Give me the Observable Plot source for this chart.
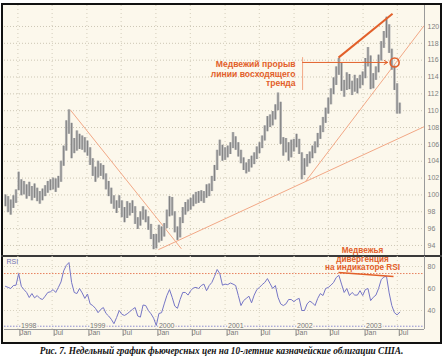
<!DOCTYPE html>
<html><head><meta charset="utf-8">
<script src="https://cdn.jsdelivr.net/npm/d3@7"></script>
<script src="https://cdn.jsdelivr.net/npm/@observablehq/plot@0.6"></script>
<style>
body{margin:0;background:#fff;}
#wrap{position:relative;width:443px;height:360px;overflow:hidden;font-family:"Liberation Sans",Arial,sans-serif;}
#frame{position:absolute;left:1px;top:3px;width:441px;height:341px;box-sizing:border-box;border:2px solid #111;background:#fcf8ec;}
#sep{position:absolute;left:1px;top:255px;width:441px;height:2px;background:#3a3a3a;}
#price,#rsi{position:absolute;left:0;}
#price{top:0}
#rsi{top:256px}
svg{overflow:visible}
#cap{position:absolute;left:0;top:346px;width:443px;text-align:center;font:italic bold 9.3px "Liberation Serif","Times New Roman",serif;color:#111;white-space:nowrap;}
</style></head>
<body><div id="wrap"><div id="frame"></div><div id="price"></div><div id="sep"></div><div id="rsi"></div><div id="cap">Рис. 7. Недельный график фьючерсных цен на 10-летние казначейские облигации США.</div></div>
<script>
// biweekly bars starting 1997-10-27
const closes = [99.3,98.8,98.3,99.2,99.8,102.0,100.6,101.0,100.2,100.8,
100.0,100.5,99.9,99.5,100.0,100.5,100.9,101.2,101.5,101.0,
101.6,103.5,105.3,108.0,109.5,105.5,105.6,107.0,106.2,106.5,
105.6,105.8,104.0,102.8,102.2,103.2,103.0,102.3,101.2,100.5,
99.5,99.0,98.5,99.5,98.2,97.3,98.7,98.2,98.6,97.3,
96.4,97.5,98.0,97.3,96.4,95.2,94.0,94.5,95.8,95.0,
96.0,97.5,99.3,98.0,96.0,94.9,96.8,98.0,98.5,98.8,
99.0,99.3,99.8,99.6,100.0,99.7,100.7,100.5,101.7,103.0,
104.8,105.8,104.5,104.9,105.2,105.5,106.6,106.0,105.2,104.2,
103.5,102.9,103.6,104.1,104.4,105.2,105.6,106.5,107.6,108.8,
108.7,109.0,110.2,111.5,106.5,105.3,106.0,104.5,105.8,106.0,
106.5,105.3,102.8,103.8,104.2,104.5,105.3,105.6,106.8,107.6,
108.6,109.8,110.9,112.0,113.2,114.6,115.4,113.0,112.5,113.8,
113.2,112.3,113.5,112.8,113.6,113.9,115.5,116.6,112.8,113.9,
114.6,116.0,117.6,118.8,120.5,117.2,115.2,113.0,111.5,110.4];
const highs = [100.0,99.8,99.4,99.9,100.6,102.7,101.8,101.6,101.2,101.5,
101.0,101.3,100.8,100.4,100.7,101.1,101.6,101.8,102.0,101.9,
102.2,104.0,105.8,108.8,110.1,108.5,106.7,107.6,107.2,107.0,
106.8,106.4,105.6,104.3,103.3,104.0,103.7,103.5,102.5,101.6,
100.8,99.9,99.3,99.9,99.3,98.5,99.2,99.0,99.3,98.6,
97.3,98.0,98.6,98.2,97.4,96.5,95.3,95.3,96.4,96.2,
96.6,98.2,99.8,99.7,98.0,96.2,97.3,98.5,99.1,99.4,
99.6,100.0,100.3,100.4,100.5,100.4,101.2,101.3,102.2,103.5,
105.3,106.5,105.9,105.6,105.8,106.2,107.4,106.9,106.2,105.3,
104.4,103.8,104.2,104.6,105.0,105.7,106.2,107.0,108.2,109.3,
109.5,109.9,110.7,112.1,111.0,106.8,106.7,106.2,106.5,106.6,
107.2,106.6,105.0,104.3,104.8,105.1,105.8,106.3,107.3,108.2,
109.2,110.3,111.5,112.6,113.9,115.2,116.2,115.6,113.6,114.5,
114.3,113.5,114.2,113.8,114.2,114.6,116.2,117.5,116.5,114.4,
115.2,116.6,118.2,119.4,121.1,120.2,117.3,115.3,113.2,110.9];
const lows = [98.6,97.9,97.6,98.4,99.0,100.5,99.9,100.0,99.5,99.8,
99.3,99.6,99.2,98.9,99.3,99.8,100.2,100.5,100.6,100.3,
100.8,101.5,103.4,105.2,107.2,104.3,104.9,105.2,105.4,105.3,
105.0,104.6,103.5,102.2,101.5,102.0,102.2,101.8,100.6,99.8,
98.9,98.3,97.8,98.4,97.3,96.7,97.2,97.5,97.8,96.5,
95.9,96.3,97.0,96.7,95.8,94.7,93.5,93.6,94.3,94.5,
95.0,96.0,97.4,97.5,95.5,94.6,94.9,96.6,97.6,98.0,
98.2,98.6,98.9,99.0,99.2,99.0,99.6,99.8,100.4,101.6,
102.9,104.6,104.0,104.1,104.4,104.8,105.5,105.3,104.5,103.7,
102.9,102.5,102.7,103.2,103.6,104.2,104.9,105.5,106.4,107.5,
108.0,108.2,108.9,110.0,106.0,104.6,105.0,104.0,104.4,105.1,
105.6,104.8,101.8,102.3,103.3,103.7,104.3,104.9,105.6,106.6,
107.4,108.5,109.6,110.7,111.9,113.0,114.2,112.3,111.6,112.4,
112.5,111.8,112.2,112.0,112.6,113.0,113.8,115.2,112.5,112.6,
113.6,114.5,115.9,117.4,118.6,116.8,114.8,112.4,109.6,109.6];
const rsiValues = [62,61,60,62.7,63,73.6,62,59,56.4,51.8,
55.4,51.5,53.6,51,50,53,56.4,57,59,56.4,
61,66,76,81,83.6,65.5,56.4,55.4,60,56,
51,55,46,44.5,42,38,41,42.7,37.3,35,
32,28,33.6,40,36.5,35.5,37,39,41,42.7,
35,34,45,44.5,40,37,33,26.4,37.3,38,
46,53.6,59,52,44,42,50,56.4,56.4,54,
58,60.5,61,60,62.7,64,58,62.7,65.5,71,
77.3,73.6,63,64,63.5,65,64,62.7,53.6,44.5,
49,51,53,47,54,59,61,63.5,65.5,69,
64.5,60,62.7,52,46,44.5,46,50,50,48,
50,51,40,40,46,48.5,47,44.5,51,55.4,
53.6,60,61,63,65.5,70,72,64,56.4,60,
53.6,56.4,54,54,58,53.6,59,60,49,52,
54,60,68,70.5,71,56,44.5,38,36,38.5];

const priceTicks = [94,96,98,100,102,104,106,108,110,112,114,116,118,120];
const rsiTicks = [40,60,80];
const monthTicks = ["1998-01-01","1998-07-01","1999-01-01","1999-07-01","2000-01-01","2000-07-01",
  "2001-01-01","2001-07-01","2002-01-01","2002-07-01","2003-01-01","2003-07-01"].map(s => new Date(s));
const yearLabels = ["1998","1999","2000","2001","2002","2003"];

const trendlines = [
  {x1:"1998-10-05", y1:110.1, x2:"2000-05-15", y2:93.6},
  {x1:"2000-01-14", y1:93.5, x2:"2003-11-20", y2:108.1},
  {x1:"2002-03-03", y1:101.6, x2:"2003-11-20", y2:120.1}
].map(d => ({...d, x1:new Date(d.x1), x2:new Date(d.x2)}));
const resistance = [{x1:new Date("2002-08-24"), y1:116.3, x2:new Date("2003-06-06"), y2:121.5}];
const breakArrow = [{x1:new Date("2002-02-15"), y1:115.73, x2:new Date("2003-05-11"), y2:115.73}];
const breakPoint = [{x:new Date("2003-06-17"), y:115.73}];
const bracket = [{x:new Date("2002-02-15"), y1:112.4, y2:116.3}];
const priceNote = [{x:new Date("2002-01-09"), y:114.4, text:"Медвежий прорыв\nлинии восходящего\nтренда"}];
const divergence = [{x1:new Date("2002-08-24"), y1:74.5, x2:new Date("2003-06-11"), y2:70.9}];
const rsiNote = [{x:new Date("2002-12-29"), y:86.8, text:"Медвежья\nдивергенция\nна индикаторе RSI"}];
const overbought = 73.6;
const baseLine = 25.7;

const start = new Date(Date.UTC(1997, 9, 27));
const dates = closes.map((_, i) => d3.utcDay.offset(start, 14 * i));
const bars = dates.map((date, i) => ({date, high: highs[i], low: lows[i], close: closes[i]}));
const rsiRows = dates.map((date, i) => ({date, rsi: rsiValues[i]}));
const xDomain = [new Date("1997-10-22"), new Date("2003-11-22")];

const orange = "#e2602a";
const thin = "#f2a886";
const font = "Liberation Sans, Arial, sans-serif";

const price = Plot.plot({
  width: 443, height: 256,
  marginLeft: 4, marginRight: 19, marginTop: 5, marginBottom: 0,
  x: {type: "utc", domain: xDomain, axis: null},
  y: {domain: [92.69, 122.49], axis: null},
  style: {background: "transparent", overflow: "visible"},
  marks: [
    Plot.gridY(priceTicks, {stroke: "#cdc7b5", strokeOpacity: 1, strokeDasharray: "1,2"}),
    Plot.gridX(monthTicks, {stroke: "#d3cdbb", strokeOpacity: 1, strokeDasharray: "1,3"}),
    Plot.link(trendlines, {x1: "x1", y1: "y1", x2: "x2", y2: "y2", stroke: thin, strokeWidth: 1}),
    Plot.ruleX(bars, {x: "date", y1: "low", y2: "high", stroke: "#bababa", strokeWidth: 2.7}),
    Plot.ruleX(bars, {x: "date", y1: "low", y2: "high", stroke: "#5a5a5a", strokeWidth: 0.6}),
    Plot.link(resistance, {x1: "x1", y1: "y1", x2: "x2", y2: "y2", stroke: orange, strokeWidth: 2}),
    Plot.ruleX(bracket, {x: "x", y1: "y1", y2: "y2", stroke: thin, strokeWidth: 1}),
    Plot.arrow(breakArrow, {x1: "x1", y1: "y1", x2: "x2", y2: "y2", stroke: orange, strokeWidth: 1, headLength: 6}),
    Plot.dot(breakPoint, {x: "x", y: "y", r: 4.5, stroke: orange, strokeWidth: 1.6, fill: "none"}),
    Plot.text(priceNote, {x: "x", y: "y", text: "text", textAnchor: "end", fill: orange, fontWeight: "bold", fontSize: 8.6, lineHeight: 1.1, fontFamily: font}),
    Plot.ruleX([xDomain[1]], {stroke: "#9a9a9a", strokeWidth: 1}),
    Plot.axisY(priceTicks, {anchor: "right", tickSize: 0, tickPadding: 3, fontSize: 7, fill: "#808080", fontFamily: font})
  ]
});
document.getElementById("price").appendChild(price);

const rsi = Plot.plot({
  width: 443, height: 87,
  marginLeft: 4, marginRight: 19, marginTop: 0, marginBottom: 14,
  x: {type: "utc", domain: xDomain, axis: null},
  y: {domain: [22.73, 89.09], axis: null},
  style: {background: "transparent", overflow: "visible"},
  marks: [
    Plot.gridY(rsiTicks, {stroke: "#d8d2c0", strokeOpacity: 1, strokeDasharray: "1,2"}),
    Plot.gridX(monthTicks, {stroke: "#d8d2c0", strokeOpacity: 1, strokeDasharray: "1,3"}),
    Plot.ruleY([overbought], {stroke: "#e8825e", strokeDasharray: "1.5,1.5"}),
    Plot.ruleY([baseLine], {stroke: "#8c8cd0", strokeDasharray: "1.5,1.5"}),
    Plot.line(rsiRows, {x: "date", y: "rsi", stroke: "#7676c6", strokeWidth: 1}),
    Plot.link(divergence, {x1: "x1", y1: "y1", x2: "x2", y2: "y2", stroke: orange, strokeWidth: 1.5}),
    Plot.text(yearLabels, {x: d => new Date(d + "-01-01"), y: baseLine, text: d => d, textAnchor: "start", dx: 3, fontSize: 7, fill: "#777", stroke: "#fcf8ec", strokeWidth: 3, paintOrder: "stroke", fontFamily: font}),
    Plot.ruleY([22.73], {stroke: "#9a9a9a"}),
    Plot.axisX(monthTicks, {anchor: "bottom", tickSize: 7, tickPadding: -6, textAnchor: "start", dx: 2, tickFormat: d3.utcFormat("%b"), fontSize: 7, fill: "#777", stroke: "#888", fontFamily: font}),
    Plot.axisY(rsiTicks, {anchor: "right", tickSize: 0, tickPadding: 3, fontSize: 7, fill: "#808080", fontFamily: font}),
    Plot.ruleX([xDomain[1]], {stroke: "#9a9a9a"}),
    Plot.text(["RSI"], {frameAnchor: "top-left", dx: 2, dy: 3, text: d => d, fontSize: 7, fill: "#7070b0", fontFamily: font}),
    Plot.text(rsiNote, {x: "x", y: "y", text: "text", textAnchor: "middle", fill: orange, fontWeight: "bold", fontSize: 8.2, lineHeight: 1.04, fontFamily: font})
  ]
});
document.getElementById("rsi").appendChild(rsi);
</script>
</body></html>
